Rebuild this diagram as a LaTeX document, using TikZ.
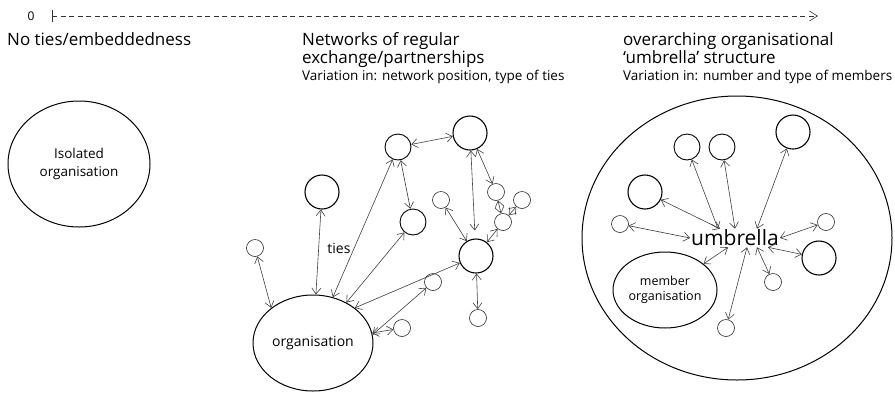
\documentclass[tikz,border=0pt]{standalone}
\usepackage{fontspec}
\setmainfont{Open Sans}
\usetikzlibrary{arrows.meta,shapes.geometric}
\begin{document}
\begin{tikzpicture}[x=1pt,y=-1pt,
  bigc/.style={circle,draw=black,line width=1.1pt,minimum size=34pt,inner sep=0pt},
  midc/.style={circle,draw=black,line width=0.9pt,minimum size=26pt,inner sep=0pt},
  smc/.style={circle,draw=black!85,line width=0.6pt,minimum size=17pt,inner sep=0pt},
  tie/.style={draw=black!75,line width=0.6pt,{Straight Barb[length=6pt,width=9pt]}-{Straight Barb[length=6pt,width=9pt]}},
  title/.style={anchor=base west,font=\fontsize{17}{20}\selectfont,inner sep=0pt},
  sub/.style={anchor=base west,font=\fontsize{13.5}{15}\selectfont,inner sep=0pt},
  ell/.style={ellipse,draw=black,line width=1pt,inner sep=0pt,align=center}
]
\useasboundingbox (0,0) rectangle (895,392);

% top axis
\node[font=\fontsize{12}{14}\selectfont,inner sep=0pt] (zero) at (31,16) {0};
\coordinate (ts) at (52,16);
\coordinate (te) at (818,16);
\draw[black!80,line width=0.6pt,dash pattern=on 5pt off 3.5pt,{Bar[width=12pt]}-{Straight Barb[length=8pt,width=10pt]}] (ts) -- (te);

% titles
\node[title] (t1) at (7,45) {No ties/embeddedness};
\node[title] (t2a) at (302,45) {Networks of regular};
\node[title] (t2b) at (302,63) {exchange/partnerships};
\node[sub] (t2c) at (302,80) {Variation in: network position, type of ties};
\node[title] (t3a) at (623,45) {overarching organisational};
\node[title] (t3b) at (623,63) {‘umbrella’ structure};
\node[sub] (t3c) at (623,80) {Variation in: number and type of members};

% isolated
\node[ell,minimum width=142pt,minimum height=126pt,font=\fontsize{13.5}{18}\selectfont] (iso) at (79,164) {Isolated\\organisation};

% network
\node[ell,minimum width=120pt,minimum height=96pt,font=\fontsize{14}{16}\selectfont] (org) at (313,343) {organisation};
\node[smc] (a1) at (255,248) {};
\node[bigc] (a2) at (322,192) {};
\node[midc] (a3) at (398,147) {};
\node[bigc] (a4) at (470,133) {};
\node[midc] (a5) at (413,222) {};
\node[bigc] (a6) at (476,256) {};
\node[smc] (a7) at (496,192) {};
\node[smc] (a8) at (522,200) {};
\node[smc] (a9) at (503,222) {};
\node[smc] (a10) at (441,200) {};
\node[smc] (a11) at (478,318) {};
\node[smc] (a12) at (433,282) {};
\node[smc] (a13) at (402,328) {};
\node[font=\fontsize{14}{16}\selectfont,inner sep=0pt] (ties) at (339,248) {ties};

\draw[tie] (org.140) -- (a1);
\draw[tie] (org) -- (a2);
\draw[tie] (org) -- (a3);
\draw[tie] (org) -- (a5);
\draw[tie] (org.40) -- (a6);
\draw[tie] (org.8) -- (a12);
\draw[tie] (org) -- (a13);
\draw[tie] (a3) -- (a4);
\draw[tie] (a3) -- (a5);
\draw[tie,shorten >=8pt] (a4) -- (a6);
\draw[tie] (a4) -- (a7);
\draw[tie] (a7) -- (a9);
\draw[tie] (a8) -- (a9);
\draw[tie] (a9) -- (a6);
\draw[tie] (a10) -- (a6);
\draw[tie] (a6) -- (a11);

% umbrella
\node[ell,minimum width=310pt,minimum height=284pt] (umbo) at (737,238) {};
\node[font=\fontsize{21}{24}\selectfont,inner sep=1pt] (umb) at (735,238) {umbrella};
\node[ell,minimum width=104pt,minimum height=76pt,font=\fontsize{12.5}{15}\selectfont] (mem) at (665,290) {member\\organisation};
\node[midc] (b1) at (687,147) {};
\node[midc] (b2) at (722,147) {};
\node[bigc] (b3) at (793,132) {};
\node[bigc] (b4) at (645,192) {};
\node[smc] (b5) at (620,224) {};
\node[smc] (b6) at (826,222) {};
\node[bigc] (b7) at (819,258) {};
\node[smc] (b8) at (773,282) {};
\node[smc] (b9) at (726,328) {};

\draw[tie] (b1) -- ([xshift=-17pt]umb.north);
\draw[tie] (b2) -- (umb.north);
\draw[tie] (b3) -- ([xshift=22pt]umb.north);
\draw[tie] (b4) -- ([xshift=-15pt]umb.north);
\draw[tie] (b5) -- (umb.west);
\draw[tie] (b6) -- (umb.east);
\draw[tie] (b7) -- ([xshift=-12pt]umb.south east);
\draw[tie] (b8) -- ([xshift=22pt]umb.south);
\draw[tie] (b9) -- ([xshift=12pt]umb.south);
\draw[tie] (mem) -- ([xshift=-7pt]umb.south);
\end{tikzpicture}
\end{document}
